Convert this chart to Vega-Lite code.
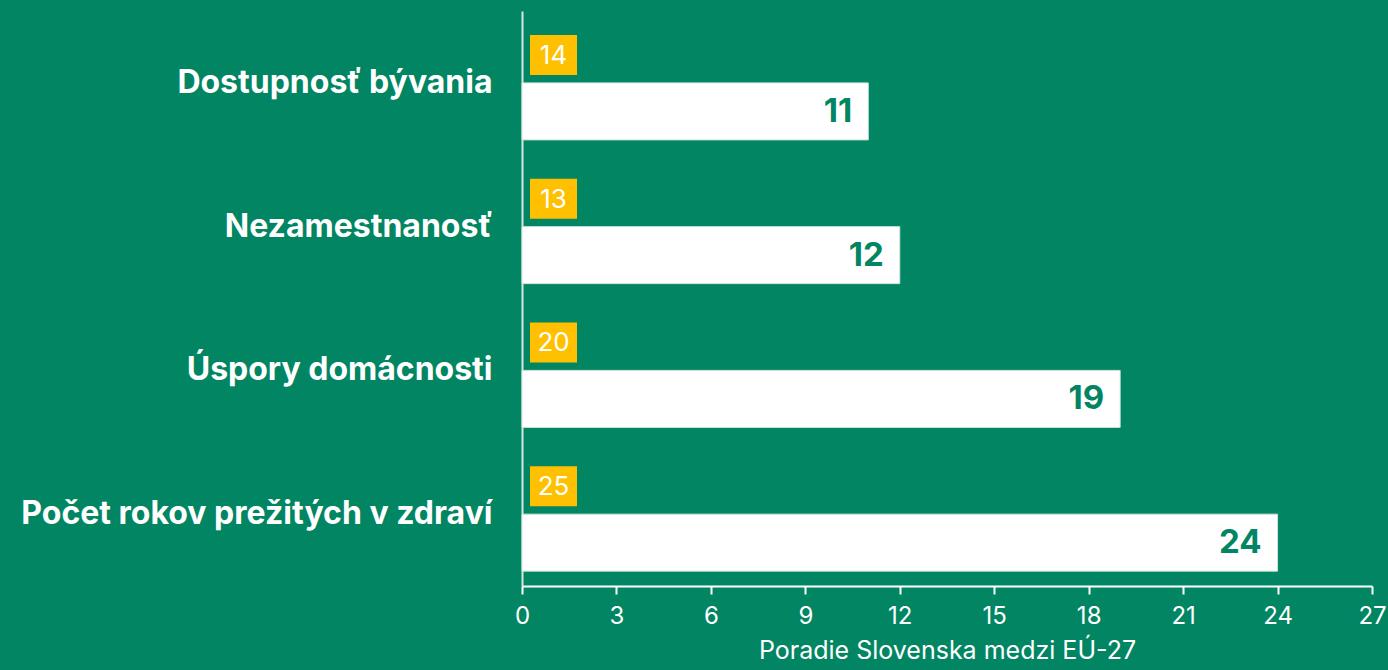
{
  "$schema": "https://vega.github.io/schema/vega-lite/v6.json",
  "width": 850,
  "height": 575,
  "autosize": "none",
  "padding": {"left": 522, "top": 11, "right": 16, "bottom": 84},
  "background": "#028562",
  "config": {
    "font": "Inter",
    "view": {"stroke": null},
    "axis": {"grid": false}
  },
  "data": {
    "values": [
      {"oblast": "Dostupnosť bývania", "poradie": 11, "predtym": 14},
      {"oblast": "Nezamestnanosť", "poradie": 12, "predtym": 13},
      {"oblast": "Úspory domácnosti", "poradie": 19, "predtym": 20},
      {"oblast": "Počet rokov prežitých v zdraví", "poradie": 24, "predtym": 25}
    ]
  },
  "encoding": {
    "y": {
      "field": "oblast",
      "type": "nominal",
      "sort": null,
      "scale": {"paddingInner": 0, "paddingOuter": 0},
      "axis": {
        "title": null,
        "ticks": false,
        "domainColor": "#d9e6e0",
        "domainWidth": 2,
        "labelColor": "#ffffff",
        "labelFont": "Inter",
        "labelFontSize": 32,
        "labelFontWeight": "bold",
        "labelPadding": 30,
        "labelLimit": 600
      }
    }
  },
  "layer": [
    {
      "mark": {"type": "bar", "color": "#ffffff", "height": 57, "yOffset": 28.5, "stroke": "#cfe3da", "strokeWidth": 1},
      "encoding": {
        "x": {
          "field": "poradie",
          "type": "quantitative",
          "scale": {"domain": [0, 27], "nice": false},
          "axis": {
            "values": [0, 3, 6, 9, 12, 15, 18, 21, 24, 27],
            "title": "Poradie Slovenska medzi EÚ-27",
            "titleColor": "#ffffff",
            "titleFontSize": 25,
            "titleFontWeight": "normal",
            "titlePadding": 10,
            "labelColor": "#ffffff",
            "labelFontSize": 24,
            "labelPadding": 10,
            "labelFlush": false,
            "domainColor": "#ffffff",
            "domainWidth": 2,
            "tickColor": "#ffffff",
            "tickWidth": 2,
            "tickSize": 8
          }
        }
      }
    },
    {
      "mark": {"type": "text", "align": "right", "baseline": "middle", "dx": -16, "yOffset": 29, "fontSize": 33, "fontWeight": "bold", "color": "#028562"},
      "encoding": {
        "x": {"field": "poradie", "type": "quantitative"},
        "text": {"field": "poradie", "type": "quantitative"}
      }
    },
    {
      "mark": {"type": "point", "shape": "M-1.175,-1L1.175,-1L1.175,1L-1.175,1Z", "size": 1600, "filled": true, "opacity": 1, "color": "#ffc000", "strokeWidth": 0, "yOffset": -28, "xOffset": 31.5},
      "encoding": {
        "x": {"datum": 0, "type": "quantitative"}
      }
    },
    {
      "mark": {"type": "text", "align": "center", "baseline": "middle", "yOffset": -27, "xOffset": 31.5, "fontSize": 26, "color": "#ffffff"},
      "encoding": {
        "x": {"datum": 0, "type": "quantitative"},
        "text": {"field": "predtym", "type": "quantitative"}
      }
    }
  ]
}
